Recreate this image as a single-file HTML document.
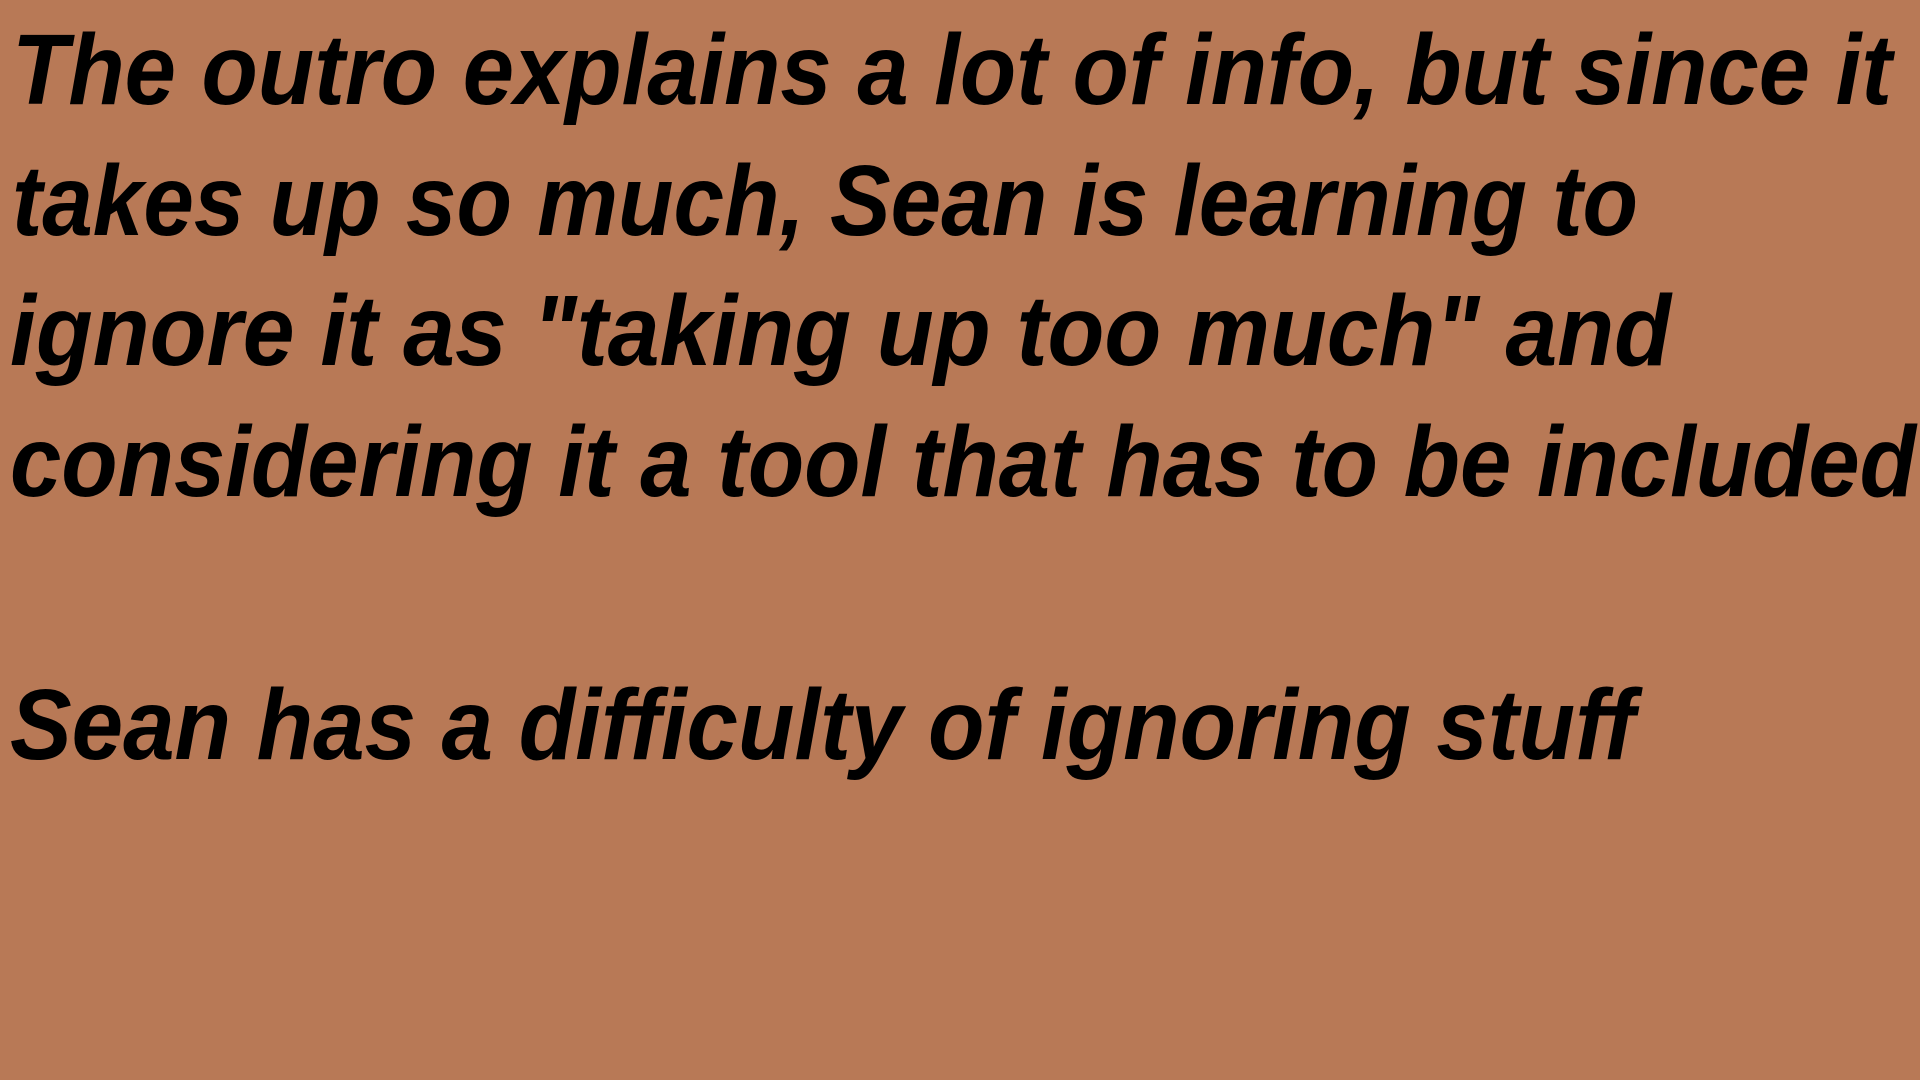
<!DOCTYPE html>
<html><head><meta charset="utf-8"><style>
html,body{margin:0;padding:0;background:#b87956;width:1920px;height:1080px;overflow:hidden}
svg{display:block}
text{font-family:"Liberation Sans",sans-serif;font-weight:bold;font-style:italic;font-size:100px;fill:#000}
</style></head><body>
<svg width="1920" height="1080" viewBox="0 0 1920 1080">
<rect width="1920" height="1080" fill="#b87956"/>
<text x="12" y="104" textLength="1880" lengthAdjust="spacingAndGlyphs">The outro explains a lot of info, but since it</text>
<text x="12" y="235" textLength="1626" lengthAdjust="spacingAndGlyphs">takes up so much, Sean is learning to</text>
<text x="10" y="365" textLength="1661" lengthAdjust="spacingAndGlyphs">ignore it as "taking up too much" and</text>
<text x="10" y="496" textLength="1906" lengthAdjust="spacingAndGlyphs">considering it a tool that has to be included</text>
<text x="10" y="759" textLength="1625" lengthAdjust="spacingAndGlyphs">Sean has a difficulty of ignoring stuff</text>
</svg>
</body></html>
